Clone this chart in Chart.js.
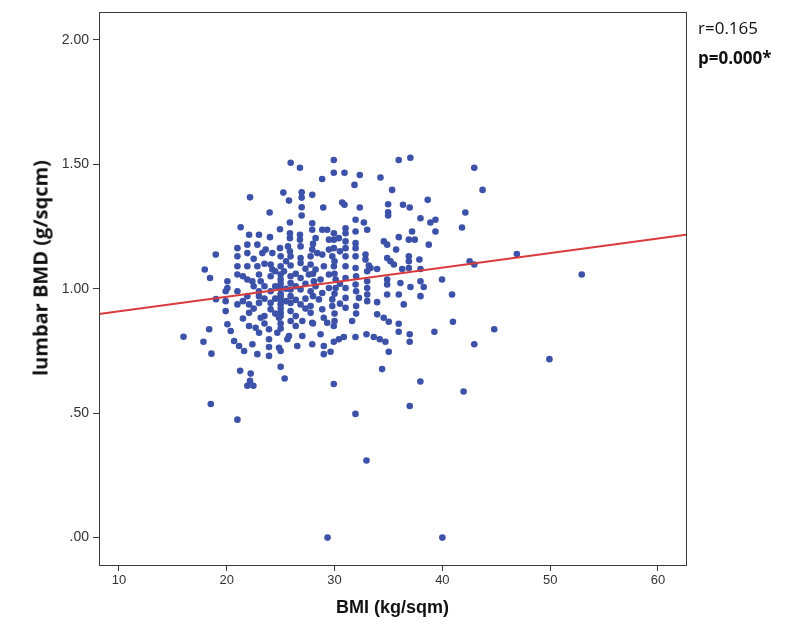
<!DOCTYPE html>
<html><head><meta charset="utf-8">
<script src="https://cdn.jsdelivr.net/npm/chart.js@4.4.1/dist/chart.umd.min.js"></script>
<style>
html,body{margin:0;padding:0;background:#fff;}
#wrap{position:relative;width:800px;height:640px;}
.ann{position:absolute;left:698px;font-family:"Open Sans",sans-serif;font-size:17px;line-height:17px;color:#111;white-space:nowrap;}
#ytitle{position:absolute;left:40px;top:268px;transform:translate(-50%,-50%) rotate(-90deg);font-family:"Open Sans",sans-serif;font-weight:bold;font-size:20px;color:#111;white-space:nowrap;}
</style></head><body>
<div id="wrap">
<canvas id="c" width="800" height="640"></canvas>
<div id="ytitle">lumbar BMD (g/sqcm)</div>
<div class="ann" style="top:19px">r=0.165</div>
<div class="ann" style="top:49px;font-weight:bold">p=0.000*</div>
</div>
<script>
// BMI (kg/sqm) of each subject
const bmi = [
25.93,26.79,22.16,25.25,25.77,26.95,26.95,27.93,26.95,23.98,26.95,
29.93,29.93,30.92,32.34,28.85,31.85,34.26,35.95,37.03,42.96,43.73,35.34,38.64,28.95,30.71,30.92,32.34,34.97,34.97,34.97,36.35,36.97,42.13,41.82,42.53,42.96,
21.29,24.94,25.86,27.93,27.93,28.86,
22.07,22.99,24.01,25.86,25.86,26.79,26.79,28.24,
20.99,21.91,22.84,23.61,24.23,24.94,25.68,25.86,26.85,27.93,28.39,
18.98,20.99,21.91,23.3,25.0,25.92,26.85,27.78,28.86,
17.96,20.99,21.91,22.84,24.07,24.23,25.0,25.31,25.92,26.85,27.78,28.24,29.01,
18.45,20.06,20.06,20.99,21.91,22.37,22.99,23.15,24.07,25.0,25.0,25.92,25.92,26.85,27.62,28.08,28.7,
19.9,20.99,21.91,22.99,22.99,24.07,25.0,25.0,25.92,25.92,26.85,27.78,28.24,28.86,19.0,
19.9,20.99,19.9,22.07,22.07,22.99,24.07,24.07,25.0,25.0,25.92,25.92,26.85,27.78,27.78,28.55,28.86,
31.95,32.72,37.97,38.89,39.36,29.32,29.94,31.02,31.02,31.95,33.03,39.36,37.19,
29.48,29.94,30.4,31.02,31.95,31.95,34.57,34.88,35.96,36.89,37.44,38.74,29.48,29.94,31.02,35.71,
29.79,31.02,31.95,32.87,32.87,34.88,35.19,36.89,36.89,37.87,
29.94,31.02,31.95,33.18,33.34,33.95,35.5,36.27,36.89,37.97,33.03,
29.48,30.1,31.02,31.95,33.03,34.88,34.88,36.11,37.04,37.97,38.27,39.97,40.9,
29.48,30.1,31.02,33.03,33.03,33.03,32.26,34.88,35.96,37.97,36.42,29.79,29.79,31.02,31.02,33.95,33.95,
27.01,23.15,24.85,25.93,27.93,20.06,20.37,22.07,22.68,23.0,23.92,24.69,25.77,27.01,
15.99,18.37,17.84,18.58,20.68,21.14,21.61,22.38,22.84,23.92,23.92,23.92,24.85,25.0,25.62,26.54,27.93,
21.24,22.22,22.16,21.91,22.47,25.0,25.37,18.52,20.99,
34.56,35.03,29.0,29.32,29.93,31.63,35.95,35.95,36.97,36.97,39.26,40.98,44.81,42.96,
28.7,29.93,30.4,30.86,31.94,32.96,33.64,34.19,34.72,35.03,29.0,29.0,29.63,
34.41,37.96,29.93,41.97,36.97,31.94,
46.91,52.93,49.93,40.0,29.35,32.96,
25.0,25.0,25.0,25.0,25.0,25.0,25.0,25.5,25.5,25.5,24.5,24.5,24.5,24.5,
26.4,26.4,26.4,26.4,26.4,27.3,27.3,27.3,27.3,28.0,28.0,28.0,28.0,
30.0,30.0,30.0,30.0,30.0,30.5,30.5,30.5,32.0,32.0,32.0,32.0,
23.5,23.5,23.5,23.5,23.5,22.5,22.5,22.5,21.5,21.5,21.5
];
// lumbar BMD (g/sqcm) of each subject, same order
const bmd = [
1.506,1.486,1.367,1.386,1.354,1.387,1.366,1.377,1.327,1.306,1.294,
1.517,1.466,1.466,1.457,1.441,1.417,1.447,1.517,1.526,1.486,1.397,1.397,1.357,1.326,1.346,1.337,1.326,1.339,1.307,1.294,1.337,1.326,1.306,1.246,1.11,1.097,
1.247,1.239,1.266,1.263,1.237,1.237,
1.217,1.217,1.207,1.223,1.203,1.217,1.197,1.203,
1.163,1.177,1.177,1.157,1.143,1.163,1.17,1.15,1.17,1.157,1.143,
1.137,1.13,1.143,1.143,1.13,1.13,1.123,1.13,1.137,
1.077,1.09,1.09,1.09,1.097,1.077,1.09,1.07,1.093,1.103,1.097,1.077,1.09,
1.043,1.03,1.003,1.057,1.037,1.03,1.057,1.03,1.05,1.057,1.037,1.05,1.023,1.043,1.057,1.03,1.037,
0.99,0.99,0.97,0.99,0.97,0.99,1.003,0.97,0.997,0.97,0.997,0.99,1.01,0.983,0.958,
0.95,0.937,0.91,0.937,0.903,0.943,0.943,0.917,0.937,0.903,0.943,0.91,0.937,0.93,0.903,0.957,0.917,
1.277,1.266,1.283,1.266,1.277,1.237,1.223,1.243,1.223,1.23,1.237,1.23,1.23,
1.197,1.197,1.203,1.19,1.183,1.163,1.19,1.177,1.207,1.197,1.197,1.177,1.157,1.163,1.163,1.157,
1.13,1.13,1.13,1.137,1.117,1.123,1.11,1.13,1.11,1.117,
1.09,1.09,1.083,1.093,1.083,1.079,1.097,1.079,1.083,1.079,1.07,
1.057,1.037,1.043,1.017,1.03,1.037,1.017,1.023,1.007,1.03,1.007,1.037,0.977,
1.003,1.003,1.003,1.003,0.977,0.95,0.963,0.977,0.977,0.97,0.937,0.957,0.93,0.963,0.923,0.946,0.897,
0.87,0.883,0.883,0.87,0.863,0.857,0.83,0.85,0.843,0.823,0.837,0.823,0.81,0.81,
0.807,0.837,0.787,0.739,0.79,0.77,0.75,0.777,0.737,0.797,0.766,0.73,0.763,0.75,0.797,0.77,0.777,
0.67,0.659,0.63,0.61,0.61,0.686,0.639,0.537,0.474,
0.883,0.867,0.883,0.863,0.85,0.87,0.859,0.827,0.817,0.787,0.827,0.867,0.837,0.777,
0.817,0.787,0.797,0.806,0.806,0.817,0.806,0.797,0.787,0.747,0.77,0.737,0.747,
0.677,0.627,0.617,0.587,0.529,0.497,
1.139,1.057,0.717,0.0,0.0,0.31,
1.02,0.98,0.955,0.92,0.89,0.86,0.84,1.11,1.0,0.95,1.07,1.01,0.96,0.9,
1.06,1.01,0.955,0.89,0.85,1.08,1.02,0.96,0.92,1.18,1.06,0.97,0.86,
1.11,1.06,0.98,0.9,0.87,1.15,1.02,0.94,1.05,0.99,0.93,0.9,
1.1,1.01,0.96,0.89,0.86,1.12,1.01,0.92,1.05,0.95,0.88
];
// fit line end points
const fitX = [8.15, 62.6];
const fitY = [0.898, 1.217];
const xTicks = [10, 20, 30, 40, 50, 60];
const yTicks = [0, 0.5, 1, 1.5, 2];
const xRange = [8.15, 62.6];
const yRange = [-0.11, 2.11];

const pts = bmi.map((v, i) => ({x: v, y: bmd[i]}));
const fit = fitX.map((v, i) => ({x: v, y: fitY[i]}));

const boxPlugin = {
  id: 'box',
  afterDatasetsDraw(chart) {
    const {ctx, chartArea: a} = chart;
    ctx.save();
    ctx.strokeStyle = '#3a3a3a';
    ctx.lineWidth = 1;
    ctx.strokeRect(Math.round(a.left) + 0.5, Math.round(a.top) + 0.5, Math.round(a.right - a.left), Math.round(a.bottom - a.top));
    ctx.restore();
  }
};

new Chart(document.getElementById('c'), {
  type: 'scatter',
  data: {
    datasets: [
      {type: 'line', data: fit, borderColor: '#d93a3c', borderWidth: 2, pointRadius: 0, fill: false, tension: 0},
      {data: pts, backgroundColor: '#3c52a8', borderColor: '#3c52a8', pointRadius: 3.3, borderWidth: 0}
    ]
  },
  options: {
    responsive: false,
    animation: false,
    layout: {padding: {left: 0, top: 9, right: 114, bottom: 0}},
    plugins: {legend: {display: false}, tooltip: {enabled: false}},
    scales: {
      x: {
        type: 'linear', min: xRange[0], max: xRange[1],
        afterBuildTicks(s) { s.ticks = xTicks.map(v => ({value: v})); },
        afterFit(s) { s.height = 75; },
        grid: {drawOnChartArea: false, drawTicks: true, tickLength: 6, color: '#3a3a3a'},
        border: {display: false},
        ticks: {font: {family: 'Liberation Sans', size: 13}, color: '#333', padding: 2, maxRotation: 0},
        title: {display: true, text: 'BMI (kg/sqm)', font: {family: 'Liberation Sans', size: 18, weight: 'bold'}, color: '#111', padding: {top: 0, bottom: 21}}
      },
      y: {
        type: 'linear', min: yRange[0], max: yRange[1],
        afterBuildTicks(s) { s.ticks = yTicks.map(v => ({value: v})); },
        afterFit(s) { s.width = 99; },
        grid: {drawOnChartArea: false, drawTicks: true, tickLength: 6, color: '#3a3a3a'},
        border: {display: false},
        ticks: {font: {family: 'Liberation Sans', size: 14}, color: '#333', padding: 4,
          callback: v => { const s = Number(v).toFixed(2); return v < 1 ? s.slice(1) : s; }}
      }
    }
  },
  plugins: [boxPlugin]
});
</script>
</body></html>
